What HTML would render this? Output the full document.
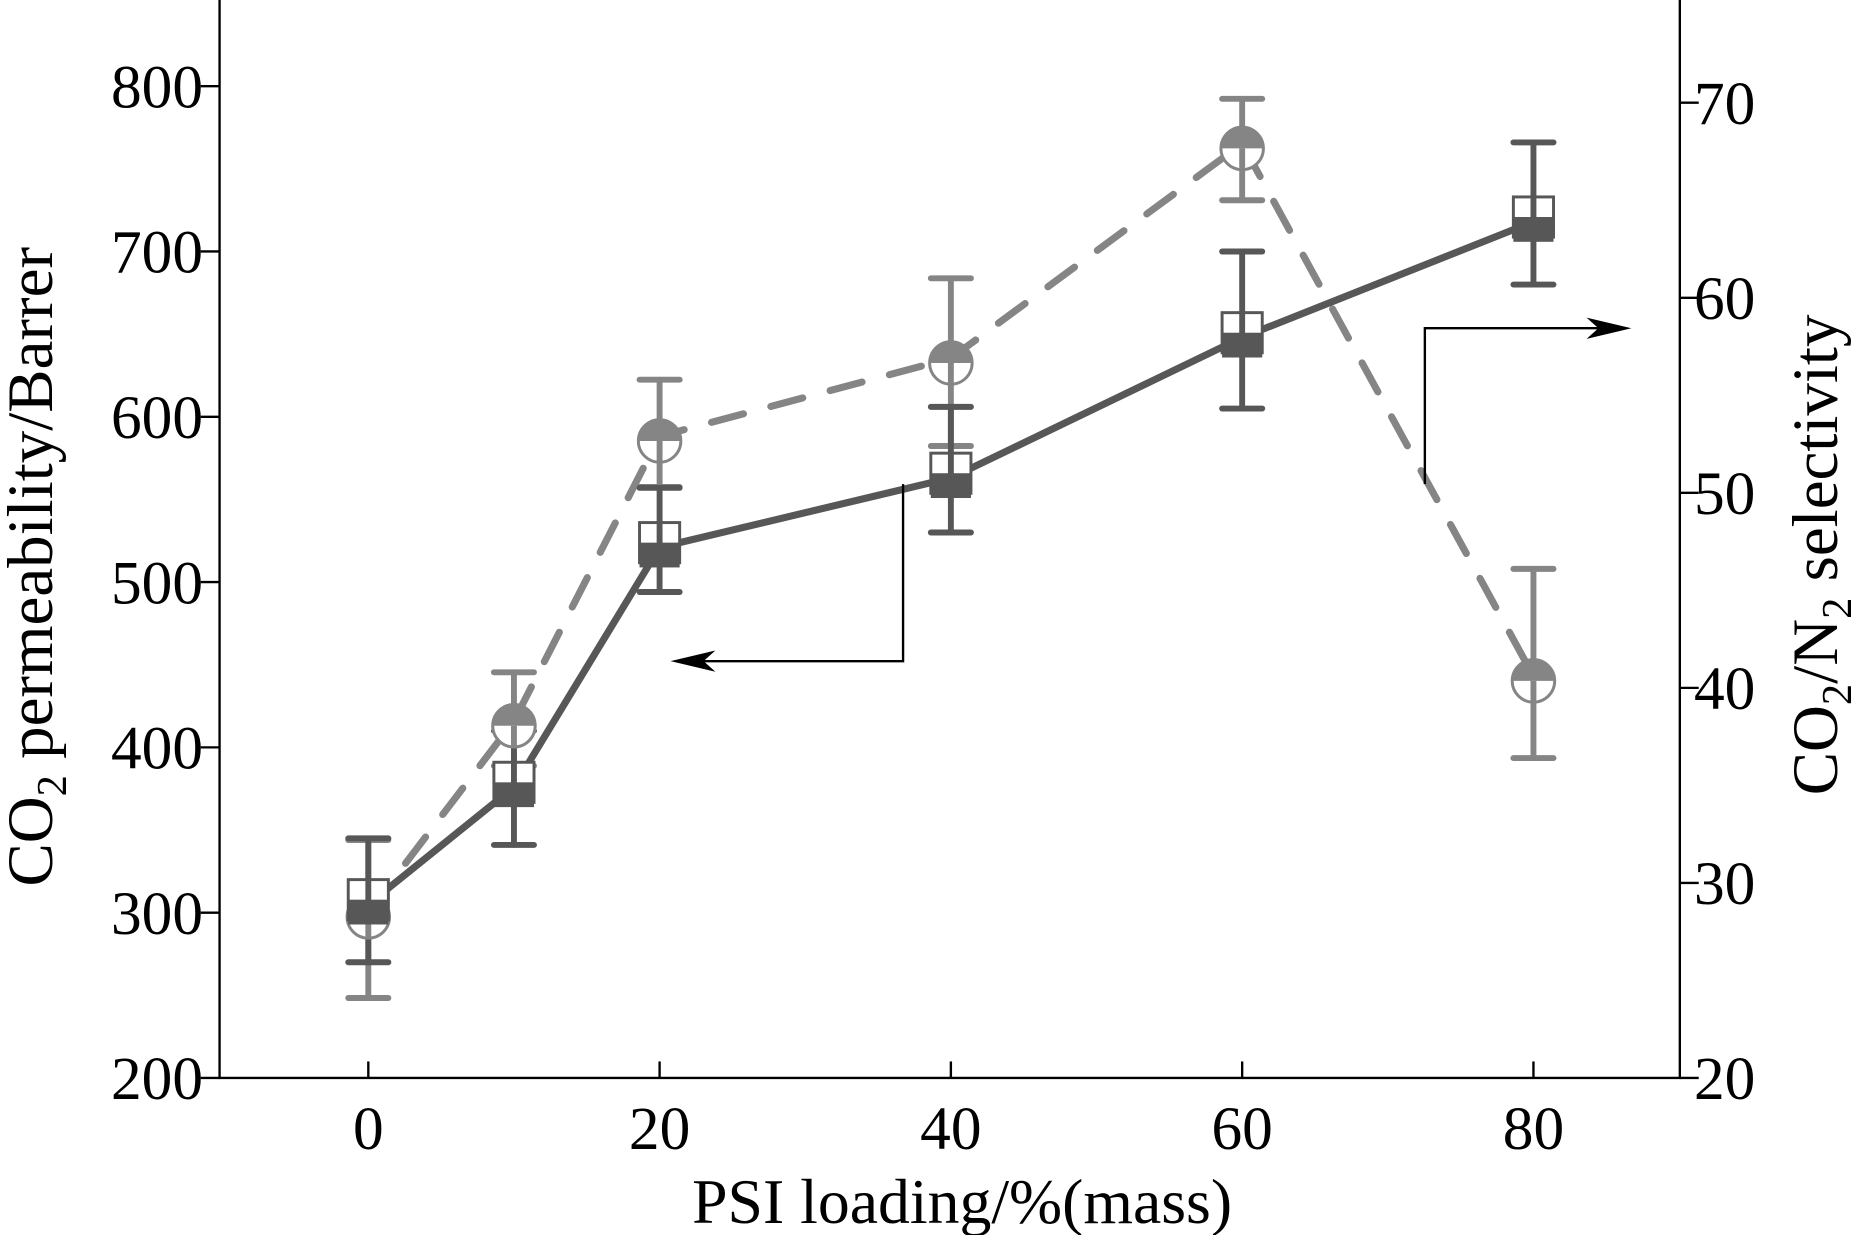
<!DOCTYPE html>
<html><head><meta charset="utf-8"><style>
html,body{margin:0;padding:0;background:#fff;}
svg{display:block;}
text{font-family:"Liberation Serif",serif;fill:#000;}
</style></head><body>
<svg id="chart" width="1851" height="1235" viewBox="0 0 1568 1046" preserveAspectRatio="none" xmlns="http://www.w3.org/2000/svg">
<g id="axes"></g>
<g id="series"></g>
<g id="annot">
<polyline points="765,410 765,560 590,560" fill="none" stroke="#000" stroke-width="2"/>
<polygon points="568,560 606,551 596,560 606,569" fill="#000"/>
<polyline points="1207,410 1207,278 1362,278" fill="none" stroke="#000" stroke-width="2"/>
<polygon points="1382,278 1344,269 1354,278 1344,287" fill="#000"/>
</g>
<text x="815" y="1036" font-size="54" text-anchor="middle">PSI loading/%(mass)</text>
<text transform="translate(44,480) rotate(-90)" font-size="55" text-anchor="middle">CO<tspan font-size="36" dy="12">2</tspan><tspan dy="-12"> permeability/Barrer</tspan></text>
<text transform="translate(1556,470) rotate(-90)" font-size="55" text-anchor="middle">CO<tspan font-size="36" dy="12">2</tspan><tspan dy="-12">/N</tspan><tspan font-size="36" dy="12">2</tspan><tspan dy="-12"> selectivity</tspan></text>
</svg>
<script>
const xCats = [0, 10, 20, 40, 60, 80];
const permValues = [305, 376, 521, 563, 648, 718];
const permLow = [270, 341, 494, 530, 605, 680];
const permHigh = [345, 410, 557, 606, 700, 766];
const selValues = [28.5, 38.3, 52.9, 56.9, 67.9, 40.6];
const selLow = [24.1, 36.0, 50.3, 52.4, 65.0, 36.4];
const selHigh = [32.2, 40.8, 55.8, 61.0, 70.2, 46.1];
const xTicks = [0, 20, 40, 60, 80];
const leftTicks = [200, 300, 400, 500, 600, 700, 800];
const rightTicks = [20, 30, 40, 50, 60, 70];

const NS = "http://www.w3.org/2000/svg";
const X0 = 186, X1 = 1423, YB = 913;
function xs(v){ return 312 + v * (1299 - 312) / 80; }
function yl(v){ return 913 - (v - 200) * (913 - 73) / 600; }
function yr(v){ return 913 - (v - 20) * (913 - 87) / 50; }
function mk(tag, attrs, parent){ const e = document.createElementNS(NS, tag); for (const k in attrs) e.setAttribute(k, attrs[k]); parent.appendChild(e); return e; }

const axes = document.getElementById('axes');
const frame = mk('path', {d:`M${X0},0 L${X0},${YB} L${X1},${YB} L${X1},0`, fill:'none', stroke:'#000', 'stroke-width':2}, axes);


leftTicks.forEach(v => {
  const t = mk('line', {x1:X0-16, x2:X0, y1:yl(v), y2:yl(v), stroke:'#000', 'stroke-width':2}, axes);
  
  
  const l = mk('text', {x:X0-14, y:yl(v)+18, 'font-size':52, 'text-anchor':'end'}, axes);
  l.textContent = v;
  
  
});
rightTicks.forEach(v => {
  const t = mk('line', {x1:X1, x2:X1+16, y1:yr(v), y2:yr(v), stroke:'#000', 'stroke-width':2}, axes);
  
  
  const l = mk('text', {x:X1+12, y:yr(v)+18, 'font-size':52}, axes);
  l.textContent = v;
  
  
});
xTicks.forEach(v => {
  const t = mk('line', {x1:xs(v), x2:xs(v), y1:YB, y2:YB-14, stroke:'#000', 'stroke-width':2}, axes);
  
  
  const l = mk('text', {x:xs(v), y:YB+60, 'font-size':52, 'text-anchor':'middle'}, axes);
  l.textContent = v;
  
  
});

const ser = document.getElementById('series');
const DARK = '#575757', GREY = '#858585';
const selLine = mk('polyline', {points: xCats.map((c,i)=>`${xs(c)},${yr(selValues[i])}`).join(' '), fill:'none', stroke:GREY, 'stroke-width':6, 'stroke-dasharray':'28,24', 'stroke-linecap':'round'}, ser);


const permLine = mk('polyline', {points: xCats.map((c,i)=>`${xs(c)},${yl(permValues[i])}`).join(' '), fill:'none', stroke:DARK, 'stroke-width':6}, ser);



function errBar(x, y1, y2, col, name){
  const g = mk('g', {stroke:col, 'stroke-width':5, 'stroke-linecap':'round'}, ser);
  
  
  mk('line', {x1:x, x2:x, y1:y1, y2:y2}, g);
  mk('line', {x1:x-17, x2:x+17, y1:y1, y2:y1}, g);
  mk('line', {x1:x-17, x2:x+17, y1:y2, y2:y2}, g);
}
xCats.forEach((c,i) => {
  errBar(xs(c), yr(selLow[i]), yr(selHigh[i]), GREY, 'selectivity-error-bar');
  errBar(xs(c), yl(permLow[i]), yl(permHigh[i]), DARK, 'permeability-error-bar');
});
xCats.forEach((c,i) => {
  const x = xs(c), y = yr(selValues[i]), r = 18;
  const g = mk('g', {}, ser);
  
  
  mk('circle', {cx:x, cy:y+4, r:r, fill:'#fff', stroke:GREY, 'stroke-width':2.5}, g);
  mk('line', {x1:x, x2:x, y1:y+4, y2:y+4+r, stroke:GREY, 'stroke-width':5}, g);
  mk('path', {d:`M${x-r},${y+4} A${r},${r} 0 0 1 ${x+r},${y+4} Z`, fill:GREY}, g);
});
xCats.forEach((c,i) => {
  const x = xs(c), y = yl(permValues[i]), h = 17;
  const g = mk('g', {}, ser);
  
  
  mk('rect', {x:x-h, y:y-h-4, width:2*h, height:2*h, fill:'#fff', stroke:DARK, 'stroke-width':2.5}, g);
  mk('line', {x1:x, x2:x, y1:y-h-4, y2:y, stroke:DARK, 'stroke-width':5}, g);
  mk('rect', {x:x-h, y:y-4, width:2*h, height:h+4, fill:DARK}, g);
});
</script>
</body></html>
